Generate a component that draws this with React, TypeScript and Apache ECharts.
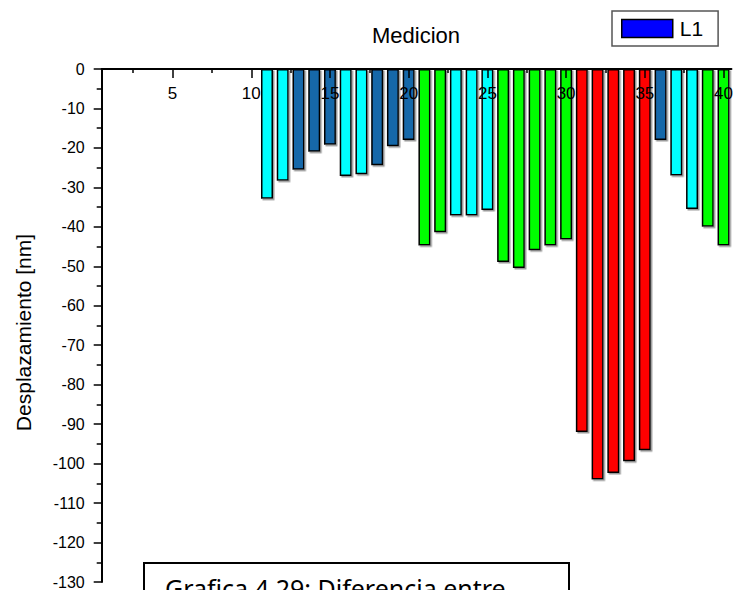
import React, { useEffect, useRef } from "react";
import * as echarts from "echarts";

// Measurement number (x position) of each bar
const measurements = [
  11, 12, 13, 14, 15, 16, 17, 18, 19, 20,
  21, 22, 23, 24, 25, 26, 27, 28, 29, 30,
  31, 32, 33, 34, 35, 36, 37, 38, 39, 40,
];
// Displacement in nm
const displacement = [
  -32.9, -28.3, -25.5, -21.0, -19.2, -27.1, -26.7, -24.4, -19.6, -18.0,
  -44.7, -41.4, -37.1, -37.1, -35.7, -48.9, -50.4, -45.9, -44.7, -43.2,
  -92.0, -104.0, -102.4, -99.4, -96.6, -18.0, -27.0, -35.5, -40.0, -44.7,
];
// Group of each bar (drives the colour)
const groups = [
  "A", "A", "B", "B", "B", "A", "A", "B", "B", "B",
  "C", "C", "A", "A", "A", "C", "C", "C", "C", "C",
  "D", "D", "D", "D", "D", "B", "A", "A", "C", "C",
];
const xMajorTicks = [5, 10, 15, 20, 25, 30, 35, 40];
const xMinorTicks = [2.5, 7.5, 12.5, 17.5, 22.5, 27.5, 32.5, 37.5];

const groupColors: Record<string, string> = {
  A: "#00ffff",
  B: "#1767a9",
  C: "#00ff00",
  D: "#ff0000",
};

export default function App() {
  const ref = useRef<HTMLDivElement>(null);
  useEffect(() => {
    if (!ref.current) return;
    const chart = echarts.init(ref.current, undefined, { renderer: "svg" });
    const font = 'Arial, "Liberation Sans", sans-serif';
    chart.setOption({
      animation: false,
      textStyle: { fontFamily: font },
      title: {
        text: "Medicion",
        left: 372,
        top: 24,
        padding: 0,
        textStyle: { fontSize: 22, fontWeight: "normal", color: "#000", fontFamily: font },
      },
      legend: {
        data: ["L1"],
        left: 612,
        top: 11,
        backgroundColor: "#fff",
        borderColor: "#555",
        borderWidth: 1.5,
        borderRadius: 0,
        padding: [7, 15, 7, 9],
        itemWidth: 51,
        itemHeight: 18,
        icon: "rect",
        textStyle: { fontSize: 21, color: "#000", lineHeight: 18, padding: [0, 0, 0, 2], fontFamily: font },
        itemStyle: {
          color: "#0000ff",
          borderColor: "#000",
          borderWidth: 1.5,
          shadowColor: "rgba(0,0,0,0)",
          shadowBlur: 0,
          shadowOffsetX: 0,
          shadowOffsetY: 0,
        },
      },
      grid: { left: 101.7, top: 69, right: 3, bottom: 7, containLabel: false },
      xAxis: [
        {
          type: "value",
          position: "top",
          min: 0.5,
          max: 40.5,
          z: 10,
          axisLine: { show: true, onZero: false, lineStyle: { color: "#000", width: 2 } },
          axisTick: {
            show: true,
            inside: true,
            length: 9,
            customValues: xMajorTicks,
            lineStyle: { color: "#000", width: 1.5 },
          },
          axisLabel: {
            show: true,
            inside: true,
            margin: 16,
            customValues: xMajorTicks,
            fontSize: 17,
            color: "#000",
            fontFamily: font,
          },
          splitLine: { show: false },
        },
        {
          type: "value",
          position: "bottom",
          offset: -514,
          min: 0.5,
          max: 40.5,
          z: 10,
          axisLine: { show: false, onZero: false },
          axisTick: {
            show: true,
            inside: false,
            length: 5,
            customValues: xMinorTicks,
            lineStyle: { color: "#000", width: 1.5 },
          },
          axisLabel: { show: false },
          splitLine: { show: false },
        },
      ],
      yAxis: {
        type: "value",
        min: -130,
        max: 0,
        interval: 10,
        z: 10,
        axisLine: { show: true, onZero: false, lineStyle: { color: "#000", width: 2 } },
        axisTick: { show: true, length: 8, lineStyle: { color: "#000", width: 1.5 } },
        minorTick: { show: true, splitNumber: 2, length: 5, lineStyle: { color: "#000", width: 1.5 } },
        axisLabel: { fontSize: 16, color: "#000", margin: 17, fontFamily: font },
        splitLine: { show: false },
        name: "Desplazamiento [nm]",
        nameLocation: "middle",
        nameGap: 68,
        nameTextStyle: { fontSize: 21, color: "#000", fontFamily: font, padding: [0, 0, 0, -14] },
      },
      series: [
        {
          type: "bar",
          name: "L1",
          xAxisIndex: 0,
          yAxisIndex: 0,
          barWidth: 12,
          itemStyle: {
            color: "#0000ff",
            borderColor: "#000",
            borderWidth: 1.5,
            shadowColor: "#9a9a9a",
            shadowBlur: 0,
            shadowOffsetX: 1.5,
            shadowOffsetY: 1.5,
          },
          data: measurements.map((m, i) => ({
            value: [m, displacement[i]],
            itemStyle: { color: groupColors[groups[i]] },
          })),
        },
      ],
      graphic: [
        {
          type: "rect",
          left: 143,
          top: 562,
          z: 100,
          shape: { width: 425, height: 60 },
          style: { fill: "#fff", stroke: "#000", lineWidth: 2 },
        },
        {
          type: "text",
          x: 165,
          y: 588,
          z: 101,
          style: {
            text: "Grafica 4.29: Diferencia entre",
            fill: "#000",
            font: '25px "Noto Sans", sans-serif',
            verticalAlign: "middle",
            align: "left",
          },
        },
      ],
    });
    return () => chart.dispose();
  }, []);
  return (
    <div
      ref={ref}
      style={{ position: "absolute", left: 0, top: 0, width: 736, height: 590 }}
    />
  );
}
